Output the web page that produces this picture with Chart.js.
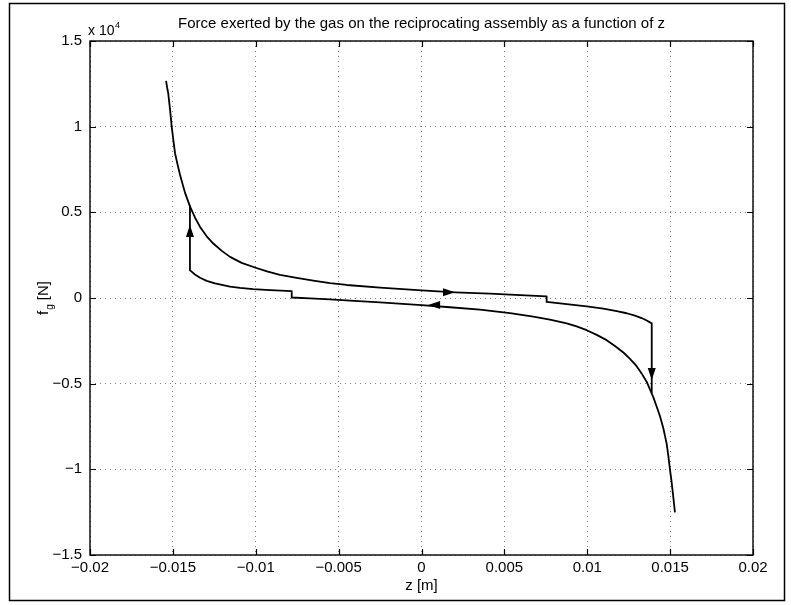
<!DOCTYPE html>
<html>
<head>
<meta charset="utf-8">
<script src="https://cdn.jsdelivr.net/npm/chart.js@4.4.1/dist/chart.umd.min.js"></script>
<style>
  html, body { margin: 0; padding: 0; background: #fff; }
  #wrap { width: 791px; height: 605px; position: relative; }
</style>
</head>
<body>
<div id="wrap"><canvas id="c"></canvas></div>
<script>
// --- values: z in m, force in units of 1e4 N ---
// upper branch: from top-left down to the right, ends with the drop at z ~ 0.0139
const upperZ = [-0.01541, -0.01535, -0.01528, -0.01517, -0.01507, -0.01497, -0.01487, -0.01472,
  -0.01457, -0.01427, -0.01397, -0.01367, -0.01336, -0.01296, -0.01256, -0.01205, -0.01155,
  -0.01085, -0.01005, -0.00932, -0.00854, -0.00753, -0.00653, -0.00552, -0.00451, -0.0025,
  0.0, 0.00202, 0.00413, 0.00534, 0.00755, 0.00755, 0.00876, 0.00997, 0.01097, 0.01178,
  0.01238, 0.01288, 0.01328, 0.01359, 0.01389, 0.01389];
const upperF = [1.267, 1.23, 1.195, 1.10, 1.00, 0.92, 0.845, 0.78,
  0.72, 0.615, 0.535, 0.47, 0.415, 0.36, 0.318, 0.275, 0.24,
  0.205, 0.178, 0.155, 0.135, 0.117, 0.101, 0.087, 0.076, 0.060,
  0.044, 0.033, 0.025, 0.020, 0.010, -0.023, -0.036, -0.049, -0.062, -0.076,
  -0.089, -0.103, -0.117, -0.131, -0.148, -0.55];

// lower branch: from bottom-right back to the left, ends with the rise at z ~ -0.0140
const lowerZ = [0.01529, 0.01519, 0.01509, 0.01499, 0.01489, 0.01479, 0.01459, 0.01439,
  0.01419, 0.01399, 0.01379, 0.01359, 0.01328, 0.01298, 0.01258, 0.01218, 0.01167,
  0.01117, 0.01057, 0.00997, 0.00936, 0.00876, 0.00775, 0.00674, 0.00534, 0.00353,
  0.00172, 0.0, -0.0025, -0.00431, -0.00552, -0.00673, -0.00783, -0.00783, -0.00914,
  -0.01015, -0.01095, -0.01155, -0.01246, -0.01296, -0.01336, -0.01367, -0.01387,
  -0.01397, -0.01397];
const lowerF = [-1.251, -1.16, -1.075, -1.0, -0.92, -0.85, -0.76, -0.69,
  -0.635, -0.58, -0.535, -0.49, -0.44, -0.398, -0.355, -0.318, -0.28,
  -0.246, -0.215, -0.188, -0.166, -0.148, -0.126, -0.109, -0.088, -0.068,
  -0.054, -0.042, -0.025, -0.015, -0.008, -0.002, 0.003, 0.040, 0.046,
  0.052, 0.059, 0.067, 0.085, 0.10, 0.118, 0.137, 0.154,
  0.162, 0.54];

const xTicks = [-0.02, -0.015, -0.01, -0.005, 0, 0.005, 0.01, 0.015, 0.02];
const yTicks = [-1.5, -1, -0.5, 0, 0.5, 1, 1.5];

// direction arrows on the cycle (tip position + pointing direction)
const arrowZ = [-0.01397, 0.01389, 0.00202, 0.0004];
const arrowF = [0.426, -0.479, 0.033, -0.041];
const arrowDir = ['up', 'down', 'right', 'left'];

const titleText = 'Force exerted by the gas on the reciprocating assembly as a function of z';
const FONT = '"Liberation Sans", Arial, Helvetica, sans-serif';

// matlab style numbers: no trailing zeros, long minus
const fmt = (v) => String(Number(Number(v).toFixed(4))).replace('-', '\u2212');

function drawArrow(ctx, x, y, dir) {
  const L = 12, W = 4;
  ctx.beginPath();
  if (dir === 'up') { ctx.moveTo(x, y); ctx.lineTo(x - W, y + L); ctx.lineTo(x + W, y + L); }
  if (dir === 'down') { ctx.moveTo(x, y); ctx.lineTo(x - W, y - L); ctx.lineTo(x + W, y - L); }
  if (dir === 'right') { ctx.moveTo(x, y); ctx.lineTo(x - L, y - W); ctx.lineTo(x - L, y + W); }
  if (dir === 'left') { ctx.moveTo(x, y); ctx.lineTo(x + L, y - W); ctx.lineTo(x + L, y + W); }
  ctx.closePath();
  ctx.fill();
}

const matlabLook = {
  id: 'matlabLook',
  afterDatasetsDraw(chart) {
    const { ctx, scales: { x, y } } = chart;
    ctx.save();
    ctx.fillStyle = '#000';
    arrowZ.forEach((z, i) => {
      drawArrow(ctx, x.getPixelForValue(z), y.getPixelForValue(arrowF[i]), arrowDir[i]);
    });
    ctx.restore();
  },
  afterDraw(chart) {
    const { ctx, chartArea: a, scales: { x, y } } = chart;
    ctx.save();
    ctx.strokeStyle = '#000';
    ctx.fillStyle = '#000';

    // axes box
    ctx.lineWidth = 1.4;
    ctx.strokeRect(a.left, a.top, a.right - a.left, a.bottom - a.top);

    // inward ticks on all four sides
    const tl = 6;
    ctx.lineWidth = 1.2;
    ctx.beginPath();
    xTicks.forEach((v) => {
      const px = Math.round(x.getPixelForValue(v)) + 0.5;
      ctx.moveTo(px, a.bottom); ctx.lineTo(px, a.bottom - tl);
      ctx.moveTo(px, a.top); ctx.lineTo(px, a.top + tl);
    });
    yTicks.forEach((v) => {
      const py = Math.round(y.getPixelForValue(v)) + 0.5;
      ctx.moveTo(a.left, py); ctx.lineTo(a.left + tl, py);
      ctx.moveTo(a.right, py); ctx.lineTo(a.right - tl, py);
    });
    ctx.stroke();

    // title
    ctx.font = '15px ' + FONT;
    ctx.textAlign = 'center';
    ctx.textBaseline = 'middle';
    ctx.fillText(titleText, (a.left + a.right) / 2, 24);

    // exponent label
    ctx.textAlign = 'left';
    ctx.textBaseline = 'alphabetic';
    ctx.font = '14px ' + FONT;
    ctx.fillText('x 10', a.left - 2, 35);
    const w10 = ctx.measureText('x 10').width;
    ctx.font = '9px ' + FONT;
    ctx.fillText('4', a.left - 2 + w10 + 0.5, 28);

    // x axis title
    ctx.font = '15px ' + FONT;
    ctx.textAlign = 'center';
    ctx.textBaseline = 'middle';
    ctx.fillText('z [m]', (a.left + a.right) / 2, 586);

    // y axis title, f with subscript g
    ctx.translate(48, (a.top + a.bottom) / 2);
    ctx.rotate(-Math.PI / 2);
    ctx.textAlign = 'left';
    ctx.textBaseline = 'alphabetic';
    ctx.font = '15px ' + FONT;
    const wf = ctx.measureText('f').width;
    const wn = ctx.measureText(' [N]').width;
    ctx.font = '10px ' + FONT;
    const wg = ctx.measureText('g').width;
    const sx = -(wf + wg + wn + 1) / 2;
    ctx.font = '15px ' + FONT;
    ctx.fillText('f', sx, 0);
    ctx.font = '10px ' + FONT;
    ctx.fillText('g', sx + wf + 1, 5);
    ctx.font = '15px ' + FONT;
    ctx.fillText(' [N]', sx + wf + 1 + wg, 0);
    ctx.restore();

    // outer figure frame
    ctx.save();
    ctx.strokeStyle = '#000';
    ctx.lineWidth = 1.5;
    ctx.strokeRect(9.5, 3.5, 775, 597);
    ctx.restore();
  }
};

const pts = (zs, fs) => zs.map((z, i) => ({ x: z, y: fs[i] }));

const lineStyle = {
  showLine: true,
  borderColor: '#000',
  borderWidth: 1.8,
  borderJoinStyle: 'round',
  pointRadius: 0,
  tension: 0,
  fill: false
};

const gridStyle = {
  color: 'rgba(0,0,0,0.5)',
  lineWidth: 1,
  drawTicks: false
};

new Chart(document.getElementById('c'), {
  type: 'scatter',
  data: {
    datasets: [
      { label: 'upper', data: pts(upperZ, upperF), ...lineStyle },
      { label: 'lower', data: pts(lowerZ, lowerF), ...lineStyle }
    ]
  },
  options: {
    responsive: true,
    maintainAspectRatio: false,
    animation: false,
    layout: { padding: { top: 41, right: 38, left: 0, bottom: 0 } },
    plugins: {
      legend: { display: false },
      tooltip: { enabled: false }
    },
    scales: {
      x: {
        type: 'linear',
        min: -0.02,
        max: 0.02,
        afterBuildTicks: (s) => { s.ticks = xTicks.map((v) => ({ value: v })); },
        afterFit: (s) => { s.height = 50; },
        grid: gridStyle,
        border: { display: false, dash: [1, 4] },
        ticks: {
          color: '#000',
          font: { family: FONT, size: 15 },
          padding: 4,
          maxRotation: 0,
          autoSkip: false,
          callback: (v) => fmt(v)
        }
      },
      y: {
        type: 'linear',
        min: -1.5,
        max: 1.5,
        afterBuildTicks: (s) => { s.ticks = yTicks.map((v) => ({ value: v })); },
        afterFit: (s) => { s.width = 90; },
        grid: gridStyle,
        border: { display: false, dash: [1, 4] },
        ticks: {
          color: '#000',
          font: { family: FONT, size: 15 },
          padding: 8,
          autoSkip: false,
          callback: (v) => fmt(v)
        }
      }
    }
  },
  plugins: [matlabLook]
});
</script>
</body>
</html>
